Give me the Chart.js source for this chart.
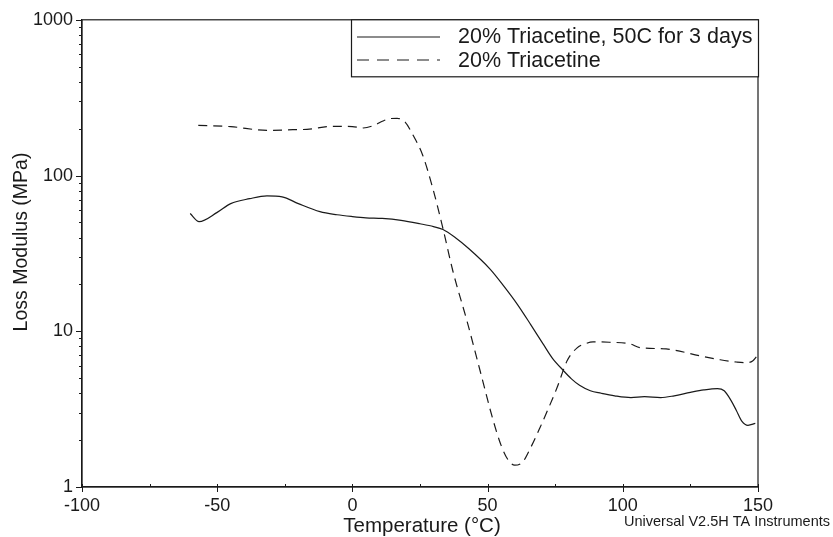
<!DOCTYPE html>
<html>
<head>
<meta charset="utf-8">
<script src="https://cdn.jsdelivr.net/npm/chart.js@4"></script>
<style>
  html, body { margin: 0; padding: 0; background: #fff; }
  #wrap { width: 833px; height: 537px; }
</style>
</head>
<body>
<div id="wrap"><canvas id="dmaChart" width="833" height="537"></canvas></div>
<script>
// Loss modulus vs temperature (DMA)
var tempAged = [-60, -56.7, -50, -45, -38, -31.6, -26, -20, -12, -5.7, 0, 5, 11, 18, 25, 30, 33.5, 38, 43, 51, 56, 61, 66, 70.5, 74, 78, 81, 84, 88, 92, 97, 103, 108, 114, 119, 125, 130, 135, 137.5, 140, 142, 144, 146.3, 149];
var modAged  = [57, 50.6, 58, 66, 71, 74, 73, 66, 58.6, 56, 54.5, 53.5, 53, 51.5, 49, 47, 45, 40, 34, 25, 19.5, 14.9, 11, 8.3, 6.7, 5.6, 4.95, 4.5, 4.15, 4.0, 3.85, 3.75, 3.8, 3.75, 3.85, 4.05, 4.2, 4.28, 4.15, 3.6, 3.1, 2.65, 2.49, 2.56];

var tempFresh = [-57, -45, -31.6, -22, -16.8, -7.2, 0, 4, 8, 11.3, 14, 16.5, 19.5, 22.4, 26, 29.8, 33.5, 37.2, 42.4, 47.2, 52, 55, 57.5, 60, 63, 66, 69.4, 72.5, 75.7, 79.4, 83, 86, 89, 95, 102.7, 106.4, 116, 128.5, 136, 142, 145.9, 148, 149.5];
var modFresh  = [210, 206, 195, 197, 198, 207, 206, 202, 210, 224, 232, 233, 220, 182, 135, 82, 45.6, 24.2, 11.6, 5.6, 2.7, 1.85, 1.5, 1.38, 1.45, 1.8, 2.41, 3.2, 4.35, 6.46, 7.8, 8.3, 8.55, 8.5, 8.3, 7.85, 7.7, 6.95, 6.56, 6.35, 6.28, 6.45, 6.9];

var seriesNames = ['20% Triacetine, 50C for 3 days', '20% Triacetine'];
var yMajorTicks = [1, 10, 100, 1000];
var xMajorTicks = [-100, -50, 0, 50, 100, 150];

var FONT = '"Liberation Sans", Arial, Helvetica, sans-serif';
var INK = '#1a1a1a';

function toPoints(xs, ys) {
    return xs.map(function(x, i) { return { x: x, y: ys[i] }; });
}

// frame, tick marks, legend box and texts
var decoPlugin = {
    id: 'deco',
    afterDraw: function(chart) {
        var c = chart.ctx, a = chart.chartArea;
        var xs = chart.scales.x, ys = chart.scales.y;
        c.save();
        c.strokeStyle = INK;
        c.lineWidth = 1.2;
        c.strokeRect(a.left, a.top, a.right - a.left, a.bottom - a.top);

        // x ticks
        c.lineWidth = 1;
        for (var v = -100; v <= 150; v += 25) {
            var px = Math.round(xs.getPixelForValue(v)) + 0.5;
            c.beginPath();
            if (v % 50 === 0) { c.moveTo(px, a.bottom - 3); c.lineTo(px, a.bottom + 5); }
            else { c.moveTo(px, a.bottom - 3); c.lineTo(px, a.bottom); }
            c.stroke();
        }
        // y ticks (log minor)
        for (var d = 1; d < 1000; d *= 10) {
            for (var m = 1; m <= 10; m++) {
                var py = Math.round(ys.getPixelForValue(d * m)) + 0.5;
                var len = (m === 1 || m === 10) ? 6 : 3;
                c.beginPath(); c.moveTo(a.left - len, py); c.lineTo(a.left, py); c.stroke();
            }
        }

        // legend box
        var lx = 351, ly = a.top, lw = a.right - 351, lh = 57;
        c.fillStyle = '#fff';
        c.fillRect(lx, ly, lw, lh);
        c.lineWidth = 1.2;
        c.strokeRect(lx + 0.5, ly, lw, lh);
        c.beginPath(); c.moveTo(357, 37); c.lineTo(440, 37); c.stroke();
        c.setLineDash([12, 8]);
        c.beginPath(); c.moveTo(357, 60); c.lineTo(440, 60); c.stroke();
        c.setLineDash([]);
        c.fillStyle = INK;
        c.font = '21.5px ' + FONT;
        c.textBaseline = 'alphabetic';
        c.textAlign = 'left';
        c.fillText(chart.data.datasets[0].label, 458, 43);
        c.fillText(chart.data.datasets[1].label, 458, 67);

        // axis titles
        c.textAlign = 'center';
        c.font = '20.5px ' + FONT;
        c.fillText('Temperature (\u00B0C)', 422, 532);
        c.save();
        c.font = '19.5px ' + FONT;
        c.translate(27, 242);
        c.rotate(-Math.PI / 2);
        c.fillText('Loss Modulus (MPa)', 0, 0);
        c.restore();

        c.font = '14.5px ' + FONT;
        c.textAlign = 'right';
        c.fillText('Universal V2.5H TA Instruments', 830, 526);
        c.restore();
    }
};

var ctx = document.getElementById('dmaChart').getContext('2d');
var dmaChart = new Chart(ctx, {
    type: 'line',
    data: {
        datasets: [
            {
                label: seriesNames[0],
                data: toPoints(tempAged, modAged),
                borderColor: INK,
                borderWidth: 1.2,
                pointRadius: 0,
                cubicInterpolationMode: 'monotone',
                fill: false
            },
            {
                label: seriesNames[1],
                data: toPoints(tempFresh, modFresh),
                borderColor: INK,
                borderWidth: 1.2,
                borderDash: [9, 6],
                pointRadius: 0,
                cubicInterpolationMode: 'monotone',
                fill: false
            }
        ]
    },
    options: {
        responsive: false,
        animation: false,
        layout: { padding: { top: 17, right: 75, left: 0, bottom: 0 } },
        plugins: {
            legend: { display: false },
            tooltip: { enabled: false }
        },
        scales: {
            x: {
                type: 'linear',
                min: -100,
                max: 150,
                afterFit: function(s) { s.height = 50; },
                afterBuildTicks: function(s) { s.ticks = xMajorTicks.map(function(v) { return { value: v }; }); },
                grid: { display: false, drawTicks: false },
                border: { display: true, color: INK, width: 1.2 },
                ticks: {
                    color: INK,
                    font: { family: FONT, size: 18 },
                    padding: 8,
                    maxRotation: 0
                }
            },
            y: {
                type: 'logarithmic',
                min: 1,
                max: 1000,
                afterFit: function(s) { s.width = 82; },
                afterBuildTicks: function(s) { s.ticks = yMajorTicks.map(function(v) { return { value: v }; }); },
                grid: { display: false, drawTicks: false },
                border: { display: true, color: INK, width: 1.2 },
                ticks: {
                    color: INK,
                    font: { family: FONT, size: 18 },
                    padding: 9,
                    callback: function(v) { return String(v); }
                }
            }
        }
    },
    plugins: [decoPlugin]
});
</script>
</body>
</html>
